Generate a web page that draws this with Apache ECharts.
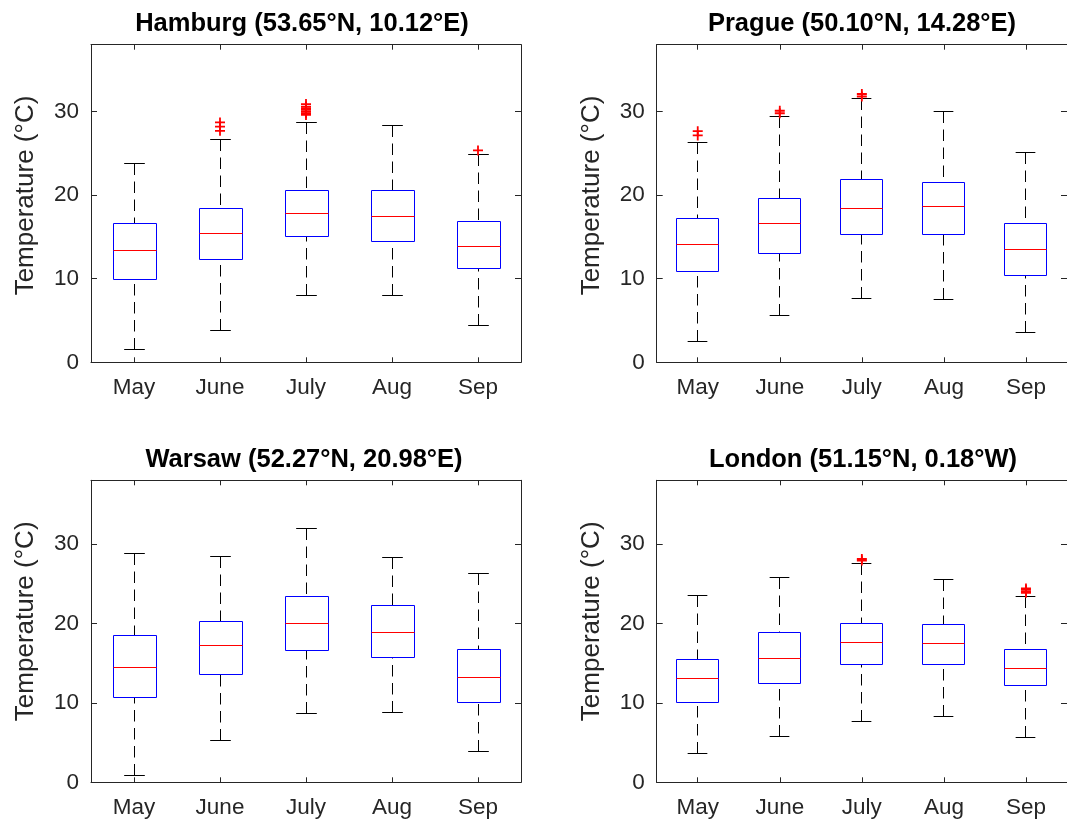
<!DOCTYPE html>
<html>
<head>
<meta charset="utf-8">
<script src="https://cdn.jsdelivr.net/npm/echarts@6/dist/echarts.min.js"></script>
<style>
html,body{margin:0;padding:0;background:#ffffff;}
#chart{width:1067px;height:820px;}
</style>
</head>
<body>
<div id="chart"></div>
<script>
// ---- data ----
const months = ['May', 'June', 'July', 'Aug', 'Sep'];
const yTicks = [0, 10, 20, 30];
const yAxisName = 'Temperature (°C)';
const titles = [
  'Hamburg (53.65°N, 10.12°E)',
  'Prague (50.10°N, 14.28°E)',
  'Warsaw (52.27°N, 20.98°E)',
  'London (51.15°N, 0.18°W)'
];
// [lower whisker, Q1, median, Q3, upper whisker]
const hamburgStats = [
  [1.5, 9.95, 13.4, 16.6, 23.8],
  [3.75, 12.35, 15.4, 18.35, 26.7],
  [7.95, 15.0, 17.8, 20.55, 28.7],
  [8.05, 14.5, 17.45, 20.55, 28.35],
  [4.4, 11.25, 13.85, 16.85, 24.9]
];
const pragueStats = [
  [2.45, 10.9, 14.1, 17.15, 26.25],
  [5.55, 13.0, 16.6, 19.65, 29.45],
  [7.65, 15.35, 18.45, 21.85, 31.6],
  [7.55, 15.3, 18.7, 21.55, 30.0],
  [3.55, 10.35, 13.45, 16.55, 25.15]
];
const warsawStats = [
  [0.9, 10.7, 14.4, 18.45, 28.75],
  [5.25, 13.55, 17.2, 20.25, 28.35],
  [8.6, 16.55, 19.95, 23.4, 31.9],
  [8.8, 15.75, 18.85, 22.3, 28.25],
  [3.9, 10.1, 13.2, 16.65, 26.25]
];
const londonStats = [
  [3.6, 10.1, 13.05, 15.5, 23.55],
  [5.8, 12.45, 15.55, 18.85, 25.75],
  [7.7, 14.85, 17.65, 19.95, 27.55],
  [8.3, 14.8, 17.45, 19.85, 25.55],
  [5.7, 12.2, 14.35, 16.65, 23.35]
];
// outliers: [month index, value]
const hamburgOutliers = [[1, 27.7], [1, 28.2], [1, 28.7],
  [2, 29.6], [2, 29.8], [2, 30.0], [2, 30.2], [2, 30.4], [2, 30.6], [2, 30.9],
  [4, 25.35]];
const pragueOutliers = [[0, 27.15], [0, 27.65], [1, 29.8], [1, 30.1], [2, 31.8], [2, 32.1]];
const warsawOutliers = [];
const londonOutliers = [[2, 27.9], [2, 28.1], [4, 23.85], [4, 24.0], [4, 24.2], [4, 24.4]];

const statsList = [hamburgStats, pragueStats, warsawStats, londonStats];
const outlierList = [hamburgOutliers, pragueOutliers, warsawOutliers, londonOutliers];

// ---- layout / style ----
const FONT = 'Liberation Sans, Arial, Helvetica, sans-serif';
const AXIS_COLOR = '#262626';
const layouts = [
  {left: 91, top: 44.7, width: 430, height: 317.6},
  {left: 656.7, top: 44.7, width: 414.5, height: 317.6},
  {left: 91, top: 480.3, width: 430, height: 302},
  {left: 656.7, top: 480.3, width: 414.5, height: 302}
];
const namePadding = [[0, 0, 0, 16], [0, 0, 0, 16], [0, 0, 0, 20], [0, 0, 0, 20]];
const titlePos = [[302, 23.5], [862, 23.5], [304, 459.5], [863, 459.5]];
const plusPath = 'path://M0,4.1L10,4.1L10,5.9L0,5.9Z M4.1,0L5.9,0L5.9,10L4.1,10Z';

function crisp(v) { return Math.round(v - 0.5) + 0.5; }

function renderBox(params, api) {
  const idx = api.value(0);
  const pLow = api.coord([idx, api.value(1)]);
  const pQ1 = api.coord([idx, api.value(2)]);
  const pMed = api.coord([idx, api.value(3)]);
  const pQ3 = api.coord([idx, api.value(4)]);
  const pHigh = api.coord([idx, api.value(5)]);
  const slot = api.size([1, 0])[0];
  const bw = slot * 0.5;
  const cw = bw * 0.48;
  const cx = crisp(pLow[0]);
  const yLow = crisp(pLow[1]), yQ1 = crisp(pQ1[1]), yMed = crisp(pMed[1]),
        yQ3 = crisp(pQ3[1]), yHigh = crisp(pHigh[1]);
  const x0 = crisp(cx - bw / 2), x1 = crisp(cx + bw / 2);
  const dash = {stroke: '#000', lineWidth: 1, lineDash: [11.5, 6.5]};
  const solid = {stroke: '#000', lineWidth: 1};
  return {
    type: 'group',
    children: [
      {type: 'line', shape: {x1: cx, y1: yHigh, x2: cx, y2: yQ3}, style: dash},
      {type: 'line', shape: {x1: cx, y1: yLow, x2: cx, y2: yQ1}, style: dash},
      {type: 'line', shape: {x1: cx - cw / 2, y1: yHigh, x2: cx + cw / 2, y2: yHigh}, style: solid},
      {type: 'line', shape: {x1: cx - cw / 2, y1: yLow, x2: cx + cw / 2, y2: yLow}, style: solid},
      {type: 'rect', shape: {x: x0, y: yQ3, width: x1 - x0, height: yQ1 - yQ3},
        style: {fill: '#fff', stroke: '#0000ff', lineWidth: 1}},
      {type: 'line', shape: {x1: x0, y1: yMed, x2: x1, y2: yMed},
        style: {stroke: '#ff0000', lineWidth: 1}}
    ]
  };
}

const option = {
  animation: false,
  backgroundColor: '#ffffff',
  textStyle: {fontFamily: FONT},
  grid: [], xAxis: [], yAxis: [], series: [], graphic: []
};

const axisLine = {show: true, onZero: false, lineStyle: {color: AXIS_COLOR, width: 1}};

layouts.forEach((lay, i) => {
  option.grid.push(Object.assign({containLabel: false, show: false}, lay));
  option.xAxis.push({
    type: 'category', gridIndex: i, data: months, position: 'bottom', boundaryGap: true,
    axisLine: axisLine,
    axisTick: {show: true, inside: true, alignWithLabel: true, length: 5, lineStyle: {color: AXIS_COLOR}},
    axisLabel: {color: AXIS_COLOR, fontSize: 22.5, margin: 14, fontFamily: FONT},
    splitLine: {show: false}
  });
  option.xAxis.push({
    type: 'category', gridIndex: i, data: months, position: 'top', boundaryGap: true,
    axisLine: axisLine,
    axisTick: {show: true, inside: true, alignWithLabel: true, length: 5, lineStyle: {color: AXIS_COLOR}},
    axisLabel: {show: false},
    splitLine: {show: false}
  });
  option.yAxis.push({
    type: 'value', gridIndex: i, position: 'left', min: yTicks[0], max: 38, interval: 10,
    name: yAxisName, nameLocation: 'middle', nameRotate: 90, nameGap: 52,
    nameTextStyle: {color: AXIS_COLOR, fontSize: 26, fontFamily: FONT, padding: namePadding[i]},
    axisLine: axisLine,
    axisTick: {show: true, inside: true, length: 6, lineStyle: {color: AXIS_COLOR}},
    axisLabel: {color: AXIS_COLOR, fontSize: 22.5, margin: 12, fontFamily: FONT,
      formatter: v => (yTicks.indexOf(v) >= 0 ? String(v) : '')},
    splitLine: {show: false}
  });
  option.yAxis.push({
    type: 'value', gridIndex: i, position: 'right', min: yTicks[0], max: 38, interval: 10,
    axisLine: axisLine,
    axisTick: {show: true, inside: true, length: 6, lineStyle: {color: AXIS_COLOR}},
    axisLabel: {show: false},
    splitLine: {show: false}
  });
  option.series.push({
    type: 'custom', xAxisIndex: 2 * i, yAxisIndex: 2 * i,
    renderItem: renderBox,
    encode: {x: 0, y: [1, 2, 3, 4, 5]},
    data: statsList[i].map((s, k) => [k].concat(s)),
    z: 2
  });
  option.series.push({
    type: 'scatter', xAxisIndex: 2 * i, yAxisIndex: 2 * i,
    symbol: plusPath, symbolSize: 10,
    itemStyle: {color: '#ff0000', opacity: 1},
    data: outlierList[i],
    z: 3
  });
  option.graphic.push({
    type: 'text', x: titlePos[i][0], y: titlePos[i][1],
    style: {text: titles[i], fill: '#000', font: 'bold 25.5px ' + FONT,
      textAlign: 'center', textVerticalAlign: 'middle'}
  });
});

const chart = echarts.init(document.getElementById('chart'), null, {renderer: 'canvas'});
chart.setOption(option);
</script>
</body>
</html>
